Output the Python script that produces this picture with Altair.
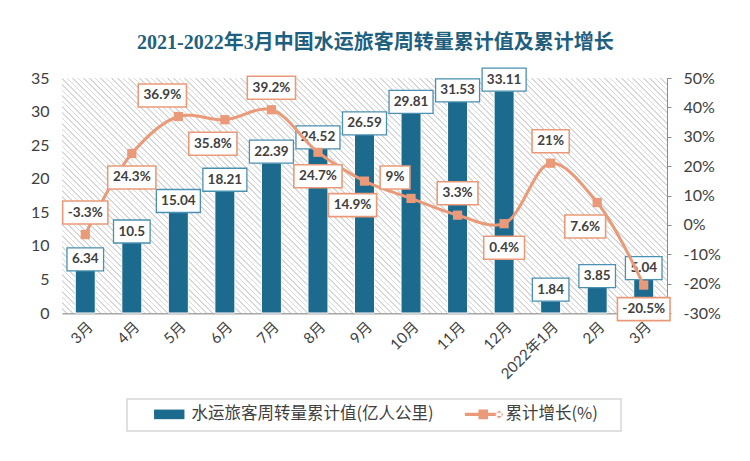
import json
import altair as alt
import pandas as pd

# ---------------- data ----------------
months = ["3月", "4月", "5月", "6月", "7月", "8月", "9月", "10月", "11月", "12月", "2022年1月", "2月", "3月"]
volume = [6.34, 10.5, 15.04, 18.21, 22.39, 24.52, 26.59, 29.81, 31.53, 33.11, 1.84, 3.85, 5.04]
growth = [-3.3, 24.3, 36.9, 35.8, 39.2, 24.7, 14.9, 9, 3.3, 0.4, 21, 7.6, -20.5]
# where each growth data label sits relative to its point
growth_label_side = ["above", "below", "above-left", "below-left", "above", "below", "below-left",
                     "above-left", "above", "below", "above", "below-left", "below"]

TITLE = "2021-2022年3月中国水运旅客周转量累计值及累计增长"
BAR_NAME = "水运旅客周转量累计值(亿人公里)"
LINE_NAME = "累计增长(%)"

# ---------------- styles ----------------
BLUE = "#1C6B8F"
SALMON = "#EA9A78"
BLUE_BORDER = "#4A90B2"
TEXT = "#404040"
NUM_FONT = "Lato, Noto Sans CJK SC"
CJK_FONT = "Noto Sans CJK SC"
PW, PH = 605, 235


def text_w(s):
    w = 0.0
    for ch in s:
        if ch.isdigit():
            w += 7.4
        elif ch == ".":
            w += 3.4
        elif ch == "%":
            w += 11.5
        elif ch == "-":
            w += 4.6
    return w


def box_path(s):
    hw = text_w(s) / 2 + 5.5
    return f"M{-hw:.1f},-11.5H{hw:.1f}V11.5H{-hw:.1f}Z"


vlabels = [f"{v:g}" for v in volume]
glabels = [f"{g:g}%" for g in growth]

df = pd.DataFrame({
    "idx": list(range(len(months))),
    "month": months,
    "volume": volume,
    "growth": growth,
    "side": growth_label_side,
    "vlabel": vlabels,
    "glabel": glabels,
    "vbox": [box_path(s) for s in vlabels],
    "gbox": [box_path(s) for s in glabels],
})

# hatch background as a striped linear gradient ("\" stripes)
N = 150
stops = []
for i in range(N):
    a = i / N
    b = (i + 0.7) / N
    c = (i + 1) / N
    stops += [
        {"offset": a, "color": "#FFFFFF"},
        {"offset": b, "color": "#FFFFFF"},
        {"offset": b, "color": "#D9D9D9"},
        {"offset": c, "color": "#D9D9D9"},
    ]
r = PH / PW
s = (1 + r) / (1 + r * r)
hatch = {"gradient": "linear", "x1": 0, "y1": 1, "x2": s, "y2": 1 - s * r, "stops": stops}

base = alt.Chart(df)

x = alt.X("idx:O",
          scale=alt.Scale(paddingInner=0, paddingOuter=0),
          axis=alt.Axis(title=None, labelExpr=json.dumps(months, ensure_ascii=False) + "[datum.value]",
                        labelAngle=-45, labelFont=NUM_FONT, labelFontSize=15, labelColor=TEXT,
                        ticks=False, domainColor="#A6A6A6", domainWidth=2, labelPadding=6))

yv = alt.Y("volume:Q",
           scale=alt.Scale(domain=[0, 35], nice=False),
           axis=alt.Axis(orient="left", title=None, values=list(range(0, 36, 5)), domain=False,
                         ticks=False, grid=False, labelPadding=13, labelFontSize=16,
                         labelColor=TEXT, labelFont=NUM_FONT))

yg = alt.Y("growth:Q",
           scale=alt.Scale(domain=[-30, 50], nice=False),
           axis=alt.Axis(orient="right", title=None, values=list(range(-30, 51, 10)),
                         labelExpr="datum.value + '%'", domainColor="#8C8C8C", tickColor="#8C8C8C",
                         tickSize=4, grid=False, labelPadding=12, labelFontSize=16,
                         labelColor=TEXT, labelFont=NUM_FONT))

bar_sym = "M-1.9,-0.6H1.9V0.6H-1.9Z"
line_sym = ("M-2.3,-0.2H2.3V0.2H-2.3Z M-0.6,-0.6H0.6V0.6H-0.6Z "
            "M2.5,0L2.0,-0.5L1.5,0L2.0,0.5Z")

legend = alt.Legend(
    title=None, orient="none", legendX=99, legendY=328, direction="horizontal",
    padding=0, labelFont=CJK_FONT, labelFontSize=16.5,
    labelColor=TEXT, labelLimit=500, symbolSize=256, columnPadding=30, labelOffset=14,
    symbolStrokeWidth=0,
    symbolType={"expr": f"datum.value === '{BAR_NAME}' ? '{bar_sym}' : '{line_sym}'"},
)

color_bar = alt.Color("series:N", scale=alt.Scale(domain=[BAR_NAME, LINE_NAME], range=[BLUE, SALMON]),
                      legend=legend)
color_line = alt.Color("series:N")

bg = alt.Chart(pd.DataFrame({"bg": [0]})).mark_rect(fill=hatch).encode(
    x=alt.value(0), x2=alt.value("width"), y=alt.value(0), y2=alt.value("height"))

# frame drawn around the legend
legend_frame = alt.Chart(pd.DataFrame({"frame": [0]})).mark_rect(
    fill="transparent", stroke="#D6D6D6", strokeWidth=1.5).encode(
    x=alt.value(65), x2=alt.value(559), y=alt.value(321), y2=alt.value(353))

bars = base.transform_calculate(series=f"'{BAR_NAME}'").mark_bar(
    width=alt.RelativeBandSize(0.43), stroke="white", strokeWidth=1).encode(
    x=x, y=yv, color=color_bar)

vbox = base.mark_point(filled=True, fill="white", stroke=BLUE_BORDER, strokeWidth=1.3, opacity=1,
                       size=4, yOffset=-11).encode(
    x=x, y=yv, shape=alt.Shape("vbox:N", scale=None))

vtext = base.mark_text(font=NUM_FONT, fontSize=13.5, fontWeight="bold", color=TEXT, yOffset=-11).encode(
    x=x, y=yv, text="vlabel:N")

left = alt.layer(bg, legend_frame, bars, vbox, vtext)

lbase = base.transform_calculate(series=f"'{LINE_NAME}'")
line = lbase.mark_line(interpolate="catmull-rom", strokeWidth=3).encode(x=x, y=yg, color=color_line)
pts = lbase.mark_point(shape="square", filled=True, size=85, opacity=1).encode(x=x, y=yg, color=color_line)


def glabel_layers(side, dx, dy):
    d = base.transform_filter(alt.datum.side == side)
    box = d.mark_point(filled=True, fill="white", stroke=SALMON, strokeWidth=1.6, opacity=1,
                       size=4, xOffset=dx, yOffset=dy).encode(
        x=x, y=yg, shape=alt.Shape("gbox:N", scale=None))
    txt = d.mark_text(font=NUM_FONT, fontSize=13.5, fontWeight="bold", color=TEXT,
                      xOffset=dx, yOffset=dy).encode(x=x, y=yg, text="glabel:N")
    return [box, txt]


right = alt.layer(line, pts,
                  *glabel_layers("above", 0, -22), *glabel_layers("below", 0, 24),
                  *glabel_layers("above-left", -16, -21), *glabel_layers("below-left", -12, 24))

chart = alt.layer(left, right).resolve_scale(y="independent").properties(
    width=PW, height=PH,
    title=alt.TitleParams(TITLE, font="Liberation Serif, Noto Sans CJK SC", fontSize=20,
                          fontWeight="bold", color="#1F5F7F", anchor="middle", frame="bounds",
                          offset=13),
    padding={"left": 22, "top": 24, "right": 20, "bottom": 20},
    background="white",
).configure_view(stroke=None)

chart.save("out.html", embed_options={"renderer": "svg", "actions": False})
